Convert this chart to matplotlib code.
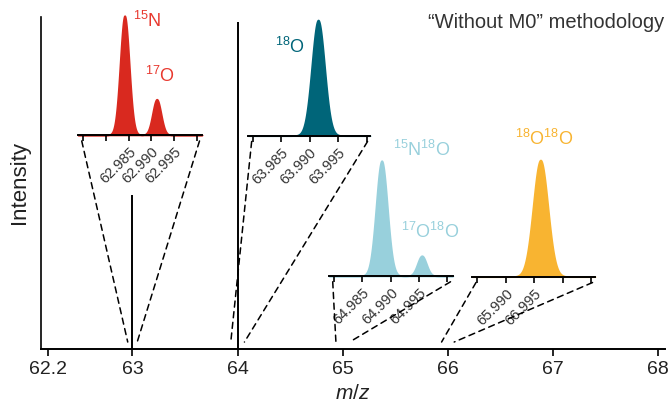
import matplotlib
matplotlib.use('Agg')
import matplotlib.pyplot as plt
import numpy as np
from matplotlib.patches import ConnectionPatch

plt.rcParams['font.family'] = ['Liberation Sans', 'DejaVu Sans']
plt.rcParams['mathtext.fontset'] = 'custom'
plt.rcParams['mathtext.rm'] = 'Liberation Sans'
plt.rcParams['mathtext.it'] = 'Liberation Sans:italic'

# ---------------- data ----------------
stick_mz = [63.0, 64.0]
stick_int = [0.464, 0.985]

main_ticks = [62.2, 63, 64, 65, 66, 67, 68]
main_ticklabels = ['62.2', '63', '64', '65', '66', '67', '68']

# inset 1 (15N / 17O)
in1_centers = [62.9841, 62.9912]
in1_heights = [1.0, 0.30]
in1_widths = [0.0010, 0.00094]
in1_ticks = [62.975, 62.980, 62.985, 62.990, 62.995, 63.000]
in1_ticklabels = ['', '', '62.985', '62.990', '62.995', '']
in1_labels = [r'$^{15}$N', r'$^{17}$O']

# inset 2 (18O)
in2_centers = [63.9915]
in2_heights = [1.0]
in2_widths = [0.00112]
in2_ticks = [63.980, 63.985, 63.990, 63.995, 64.000]
in2_ticklabels = ['', '63.985', '63.990', '63.995', '']
in2_labels = [r'$^{18}$O']

# inset 3 (15N18O / 17O18O)
in3_centers = [64.9884, 64.9955]
in3_heights = [1.0, 0.176]
in3_widths = [0.0010, 0.0008]
in3_ticks = [64.980, 64.985, 64.990, 64.995, 65.000]
in3_ticklabels = ['', '64.985', '64.990', '64.995', '']
in3_labels = [r'$^{15}$N$^{18}$O', r'$^{17}$O$^{18}$O']

# inset 4 (18O18O)
in4_centers = [65.9961]
in4_heights = [1.0]
in4_widths = [0.0013]
in4_ticks = [65.985, 65.990, 65.995, 66.000, 66.005]
in4_ticklabels = ['', '65.990', '66.995', '', '']
in4_labels = [r'$^{18}$O$^{18}$O']

RED = '#d9291f'
RED_T = '#e8382e'
TEAL = '#006579'
LBLUE = '#98d0dc'
ORANGE = '#f8b431'

W, H = 670, 404
fig = plt.figure(figsize=(W / 100, H / 100), dpi=100)


def px_rect(x0, x1, ybot, h):
    return [x0 / W, 1 - ybot / H, (x1 - x0) / W, h / H]


ax = fig.add_axes(px_rect(41, 665, 349, 332))
ax.set_xlim(62.13, 68.065)
ax.set_ylim(0, 1.0)
for mz, it in zip(stick_mz, stick_int):
    ax.vlines(mz, 0, it, color='black', lw=1.4)
ax.set_xticks(main_ticks)
ax.set_xticklabels(main_ticklabels)
ax.tick_params(axis='x', length=5, width=1.2, labelsize=14, colors='black', pad=4,
               labelcolor='#222222')
ax.set_yticks([])
for s in ['top', 'right']:
    ax.spines[s].set_visible(False)
ax.spines['left'].set_linewidth(1.2)
ax.spines['bottom'].set_linewidth(1.4)
ax.set_xlabel(r'$m/z$', fontsize=15, labelpad=4, color='#222222')
ax.set_ylabel('Intensity', fontsize=16, labelpad=8, color='#222222')

insets = [
    dict(rect=(78, 202, 135, 119.3), xlim=(62.9738, 63.0012), centers=in1_centers,
         heights=in1_heights, widths=in1_widths, ticks=in1_ticks, tl=in1_ticklabels,
         color=RED, tcolor=RED_T, labels=in1_labels,
         lpos=[(62.9859, 0.905), (62.9887, 0.444)], zoom=(62.955, 63.045)),
    dict(rect=(248, 370, 135.7, 115.7), xlim=(63.9792, 64.0006), centers=in2_centers,
         heights=in2_heights, widths=in2_widths, ticks=in2_ticks, tl=in2_ticklabels,
         color=TEAL, tcolor=TEAL, labels=in2_labels,
         lpos=[(63.984, 0.715)], zoom=(63.935, 64.065)),
    dict(rect=(329, 453, 276, 115.3), xlim=(64.9791, 65.001), centers=in3_centers,
         heights=in3_heights, widths=in3_widths, ticks=in3_ticks, tl=in3_ticklabels,
         color=LBLUE, tcolor=LBLUE, labels=in3_labels,
         lpos=[(64.9904, 1.04), (64.9919, 0.33)], zoom=(64.935, 65.065)),
    dict(rect=(472.3, 595, 276.7, 116.7), xlim=(65.9841, 66.0057), centers=in4_centers,
         heights=in4_heights, widths=in4_widths, ticks=in4_ticks, tl=in4_ticklabels,
         color=ORANGE, tcolor=ORANGE, labels=in4_labels,
         lpos=[(65.9916, 1.13)], zoom=(65.94, 66.06)),
]

for d in insets:
    x0, x1, yb, h = d['rect']
    ia = fig.add_axes(px_rect(x0, x1, yb, h))
    ia.patch.set_alpha(0)
    xs = np.linspace(d['xlim'][0], d['xlim'][1], 800)
    ys = np.zeros_like(xs)
    for c, hh, w in zip(d['centers'], d['heights'], d['widths']):
        ys = ys + hh * np.exp(-0.5 * ((xs - c) / w) ** 2)
    ia.fill_between(xs, 0, ys, color=d['color'], lw=1.2, clip_on=False)
    ia.set_xlim(*d['xlim'])
    ia.set_ylim(0, 1.0)
    ia.set_yticks([])
    ia.set_xticks(d['ticks'])
    ia.set_xticklabels(d['tl'], rotation=45, ha='right', rotation_mode='anchor')
    ia.tick_params(axis='x', length=4, width=1.2, labelsize=10.5, pad=3, labelcolor='#333333')
    for s in ['top', 'right', 'left']:
        ia.spines[s].set_visible(False)
    ia.spines['bottom'].set_linewidth(1.4)
    for lab, (lx, ly) in zip(d['labels'], d['lpos']):
        ia.text(lx, ly, lab, transform=ia.get_xaxis_transform(), color=d['tcolor'],
                fontsize=13, ha='left', va='baseline')
    # dashed connectors
    for fa, zx in [(0.03, d['zoom'][0]), (0.98, d['zoom'][1])]:
        cp = ConnectionPatch(xyA=(fa, -0.05), coordsA=ia.transAxes,
                             xyB=(zx, 0.021), coordsB=ax.transData,
                             linestyle=(0, (4, 3)), lw=1.1, color='black')
        fig.add_artist(cp)

fig.text(664 / W, 1 - 28 / H, '\u201cWithout M0\u201d methodology', ha='right', va='baseline',
         fontsize=14.5, color='#333333')

fig.savefig('out.png', dpi=100)
